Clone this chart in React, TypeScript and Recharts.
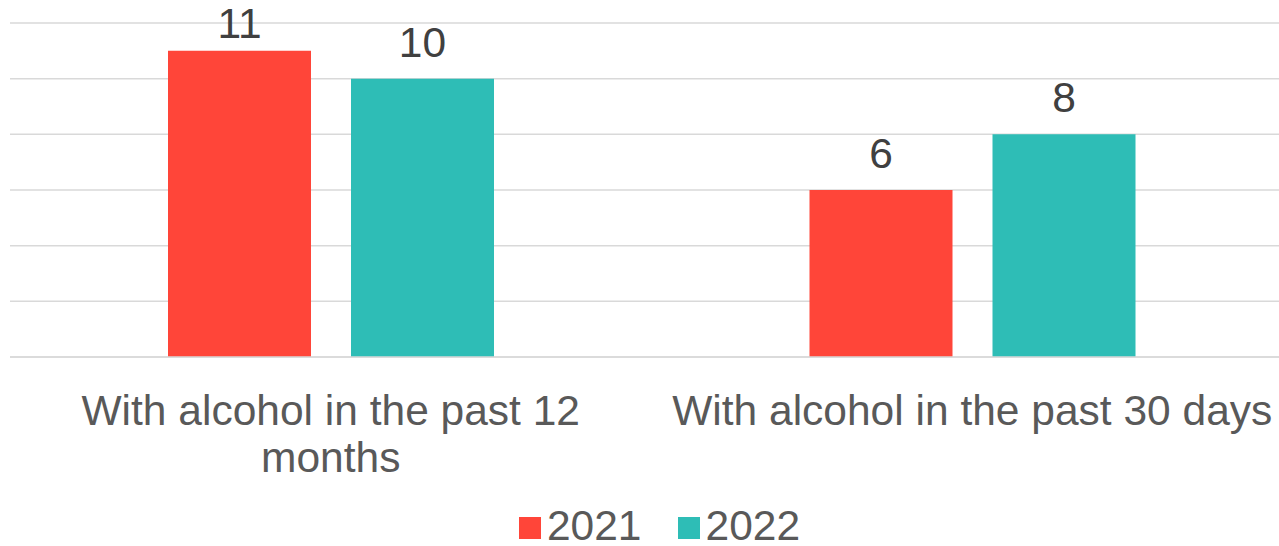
import { BarChart, Bar, XAxis, YAxis, CartesianGrid, Legend, LabelList } from "recharts"

const categories = ["With alcohol in the past 12 months", "With alcohol in the past 30 days"]
const tickLines = [["With alcohol in the past 12", "months"], ["With alcohol in the past 30 days"]]
const values2021 = [11, 6]
const values2022 = [10, 8]
const yTicks = [0, 2, 4, 6, 8, 10, 12]

const data = categories.map((name, i) => ({
  name,
  y2021: values2021[i],
  y2022: values2022[i],
}))

const FONT = '"Liberation Sans", Arial, sans-serif'
const FS = 42.5

// wrapped category label, lines picked by index
const CategoryTick = ({ x, y, payload }: any) => {
  const lines = tickLines[payload.index] || [payload.value]
  return (
    <text x={x} y={y} textAnchor="middle" fill="#595959" fontSize={FS} fontFamily={FONT}>
      {lines.map((line, i) => (
        <tspan key={i} x={x} dy={i === 0 ? 68 : 47}>{line}</tspan>
      ))}
    </text>
  )
}

// value above bar, kept inside the top edge like the original
const ValueLabel = ({ x, y, width, value }: any) => (
  <text x={x + width / 2} y={Math.max(y - 22, 38)} textAnchor="middle" fill="#404040" fontSize={FS} fontFamily={FONT}>
    {value}
  </text>
)

const LegendContent = ({ payload }: any) => (
  <div style={{ position: "relative", top: 3, display: "flex", justifyContent: "center", paddingLeft: 16, fontFamily: FONT, fontSize: FS, lineHeight: "46px", color: "#595959" }}>
    {(payload || []).map((entry: any, i: number) => (
      <div key={i} style={{ display: "flex", alignItems: "center", marginRight: i === 0 ? 36 : 0 }}>
        <span style={{ display: "inline-block", width: 22, height: 22, background: entry.color, marginRight: 6, marginTop: 4 }} />
        <span>{entry.value}</span>
      </div>
    ))}
  </div>
)

export default function App() {
  return (
    <div style={{ position: "absolute", left: 0, top: 0, width: 1279, height: 546, overflow: "hidden", background: "#fff" }}>
      <BarChart
        width={1293}
        height={546}
        data={data}
        margin={{ top: 23, right: 0, left: 10, bottom: 0 }}
        barSize={143}
        barGap={40}
      >
        <CartesianGrid vertical={false} stroke="#D9D9D9" strokeWidth={1.5} />
        <XAxis
          dataKey="name"
          height={143}
          tickLine={false}
          tickSize={0}
          tickMargin={0}
          axisLine={{ stroke: "#D9D9D9", strokeWidth: 1.5 }}
          tick={<CategoryTick />}
          interval={0}
        />
        <YAxis hide domain={[0, 12]} ticks={yTicks} />
        <Legend verticalAlign="bottom" content={<LegendContent />} />
        <Bar dataKey="y2021" name="2021" fill="#FF4539" isAnimationActive={false}>
          <LabelList dataKey="y2021" content={<ValueLabel />} />
        </Bar>
        <Bar dataKey="y2022" name="2022" fill="#2EBDB6" isAnimationActive={false}>
          <LabelList dataKey="y2022" content={<ValueLabel />} />
        </Bar>
      </BarChart>
    </div>
  )
}
